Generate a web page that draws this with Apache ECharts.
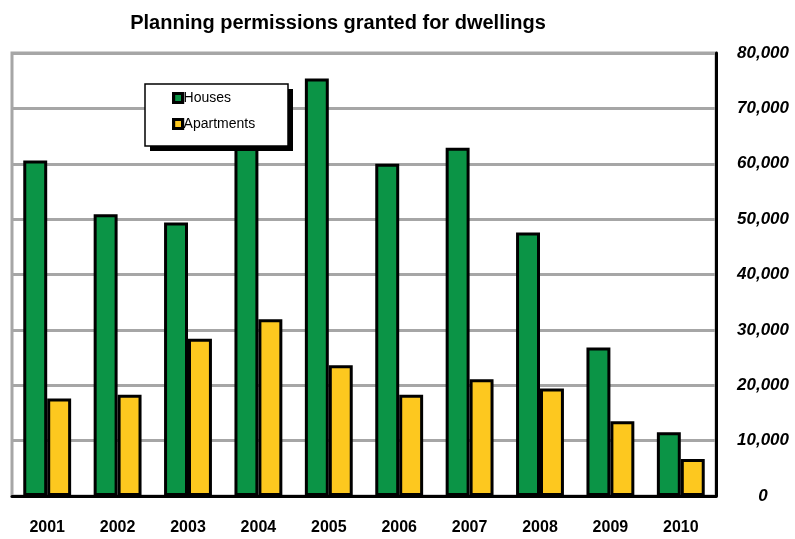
<!DOCTYPE html>
<html>
<head>
<meta charset="utf-8">
<script src="https://cdn.jsdelivr.net/npm/echarts@6/dist/echarts.min.js"></script>
<style>html,body{margin:0;padding:0;background:#fff;}#c{width:795px;height:539px;}</style>
</head>
<body>
<div id="c"></div>
<script>
var categories = ['2001','2002','2003','2004','2005','2006','2007','2008','2009','2010'];
var houses = [60600, 50900, 49400, 64500, 75400, 60000, 62900, 47600, 26800, 11500];
var apartments = [17600, 18300, 28400, 31900, 23600, 18300, 21100, 19400, 13500, 6700];
var yTicks = [0, 10000, 20000, 30000, 40000, 50000, 60000, 70000, 80000];

var chart = echarts.init(document.getElementById('c'));
chart.setOption({
  animation: false,
  backgroundColor: '#fff',
  title: {
    text: 'Planning permissions granted for dwellings',
    left: 333, top: 8, textAlign: 'center',
    textStyle: {fontFamily: 'Liberation Sans', fontWeight: 'bold', fontSize: 20, color: '#000'}
  },
  graphic: [
    {type: 'rect', z: 5, shape: {x: 150, y: 89, width: 143, height: 62}, style: {fill: '#000'}},
    {type: 'rect', z: 5, shape: {x: 145, y: 84, width: 143, height: 62}, style: {fill: '#fff', stroke: '#000', lineWidth: 1.5}}
  ],
  legend: {
    orient: 'vertical', left: 172, top: 90, z: 6,
    padding: 0, itemGap: 10,
    itemWidth: 9, itemHeight: 9, icon: 'rect',
    itemStyle: {borderColor: '#000', borderWidth: 3.2},
    textStyle: {fontFamily: 'Liberation Sans', fontSize: 14, color: '#000', padding: [0,0,0,-4], lineHeight: 16},
    data: ['Houses', 'Apartments']
  },
  grid: {left: 12, right: 79, top: 53, bottom: 43, show: true, borderColor: '#a6a6a6', borderWidth: 3, backgroundColor: 'transparent'},
  xAxis: {
    type: 'category', data: categories,
    axisLine: {show: true, lineStyle: {color: '#000', width: 3}},
    axisTick: {show: false},
    axisLabel: {margin: 24, fontFamily: 'Liberation Sans', fontWeight: 'bold', fontSize: 16, color: '#000'}
  },
  yAxis: {
    type: 'value', position: 'right', min: 0, max: 80000, interval: 10000,
    axisLine: {show: true, lineStyle: {color: '#000', width: 3}},
    axisTick: {show: false},
    splitLine: {show: true, lineStyle: {color: '#a6a6a6', width: 3}},
    axisLabel: {
      margin: 47, align: 'center',
      fontFamily: 'Liberation Sans', fontWeight: 'bold', fontStyle: 'italic', fontSize: 17, color: '#000',
      formatter: function (v) { return yTicks.indexOf(v) >= 0 ? v.toLocaleString('en-US') : ''; }
    }
  },
  series: [
    {name: 'Houses', type: 'bar', data: houses, barGap: '0%', barCategoryGap: '32%',
     itemStyle: {color: '#0b9446', borderColor: '#000', borderWidth: 3}},
    {name: 'Apartments', type: 'bar', data: apartments,
     itemStyle: {color: '#fdc81f', borderColor: '#000', borderWidth: 3}}
  ]
});
</script>
</body>
</html>
